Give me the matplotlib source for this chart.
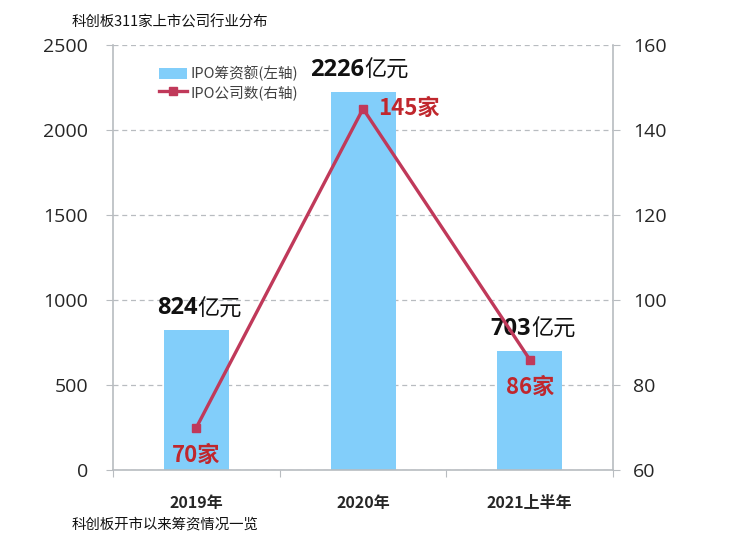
import matplotlib.pyplot as plt
import numpy as np
from matplotlib.lines import Line2D
from matplotlib.patches import Patch

plt.rcParams['font.family'] = ['Noto Sans CJK SC', 'DejaVu Sans']

categories = ['2019年', '2020年', '2021上半年']
ipo_amount = [824, 2226, 703]      # 亿元, left axis
ipo_count = [70, 145, 86]          # 家, right axis
amount_num = ['824', '2226', '703']
count_labels = ['70家', '145家', '86家']

bar_color = '#82cefa'
line_color = '#c0395a'
red_text = '#c0272d'
grid_color = '#b8bcc0'

fig = plt.figure(figsize=(7.55, 5.42), dpi=100)
ax = fig.add_axes([0.1497, 0.1328, 0.6623, 0.7842])
ax2 = ax.twinx()

x = np.arange(len(categories))
ax.bar(x, ipo_amount, width=0.39, color=bar_color, zorder=2)
ax.set_xlim(-0.5, 2.5)
ax.set_ylim(0, 2500)
ax.set_yticks(range(0, 2501, 500))
ax.yaxis.grid(True, linestyle=(0, (4, 3)), color=grid_color, linewidth=0.9, zorder=0)
ax.set_axisbelow(True)

ax2.plot(x, ipo_count, color=line_color, linewidth=2.4, marker='s', markersize=6, zorder=3)
ax2.set_ylim(60, 160)
ax2.set_yticks(range(60, 161, 20))

# x ticks at category boundaries, labels at centers
ax.set_xticks([-0.5, 0.5, 1.5, 2.5])
ax.set_xticklabels([])
ax.set_xticks(x, minor=True)
ax.set_xticklabels(categories, minor=True, fontsize=11.5, fontweight='bold', color='#262626')
ax.tick_params(axis='x', which='minor', length=0, pad=18)
ax.tick_params(axis='x', which='major', length=5, color=grid_color, direction='out')

for a in (ax, ax2):
    a.spines['top'].set_visible(False)
    for s in ('left', 'right', 'bottom'):
        a.spines[s].set_color(grid_color)
        a.spines[s].set_linewidth(1.2)
ax.spines['right'].set_visible(False)
ax2.spines['left'].set_visible(False)
ax2.spines['bottom'].set_visible(False)

ax.tick_params(axis='y', length=5, color=grid_color, labelsize=14, labelcolor='#262626', pad=13)
ax2.tick_params(axis='y', length=5, color=grid_color, labelsize=14, labelcolor='#262626', pad=9.5)
for lbl in ax.get_yticklabels() + ax2.get_yticklabels():
    lbl.set_family(['Open Sans', 'DejaVu Sans'])

# bar value labels: bold number + regular unit
for xi, v, num in zip(x, ipo_amount, amount_num):
    ax.annotate(num, (xi, v), xytext=(1, 7), textcoords='offset points',
                ha='right', va='bottom', fontsize=17, fontweight='bold', color='#111111',
                family=['Open Sans', 'DejaVu Sans'])
    ax.annotate('亿元', (xi, v), xytext=(1, 7), textcoords='offset points',
                ha='left', va='bottom', fontsize=16, color='#111111')

# line value labels
offsets = [(0, -20), (11, 0), (0, -20)]
aligns = ['center', 'left', 'center']
for xi, v, lab, off, ha in zip(x, ipo_count, count_labels, offsets, aligns):
    ax2.annotate(lab, (xi, v), xytext=off, textcoords='offset points',
                 ha=ha, va='center', fontsize=16, fontweight='bold', color=red_text)

handles = [Patch(facecolor=bar_color, edgecolor='none'),
           Line2D([0], [0], color=line_color, linewidth=2.4, marker='s', markersize=6)]
leg = ax.legend(handles, ['IPO筹资额(左轴)', 'IPO公司数(右轴)'], loc='upper left',
                bbox_to_anchor=(0.08, 0.965), frameon=False, fontsize=10.5,
                handlelength=1.9, handleheight=0.8, handletextpad=0.3,
                labelspacing=0.25, borderaxespad=0)
for t in leg.get_texts():
    t.set_color('#404040')

fig.text(0.095, 0.958, '科创板311家上市公司行业分布', fontsize=10.4, ha='left', va='center', color='#111111')
fig.text(0.095, 0.033, '科创板开市以来筹资情况一览', fontsize=10.4, ha='left', va='center', color='#111111')

fig.savefig('out.png', dpi=100)
